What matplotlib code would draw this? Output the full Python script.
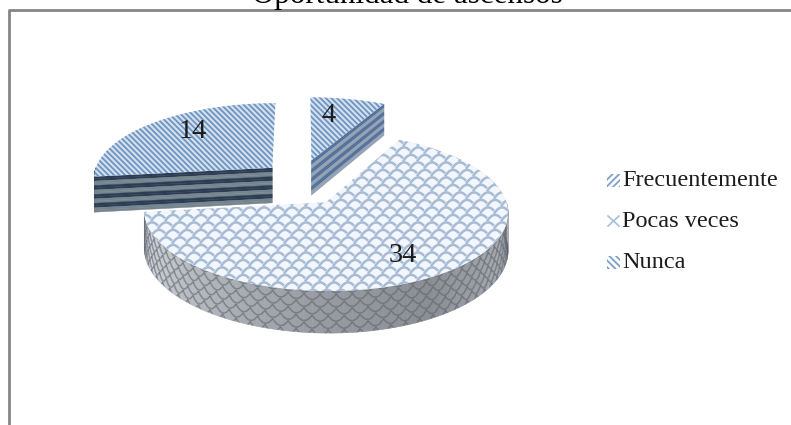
import numpy as np
import matplotlib
matplotlib.use('Agg')
import matplotlib.pyplot as plt
from matplotlib.collections import LineCollection, PolyCollection
from matplotlib.patches import Polygon, Rectangle

plt.rcParams['font.family'] = ['Liberation Serif', 'DejaVu Serif']
plt.rcParams['hatch.linewidth'] = 1.3

title = 'Oportunidad de ascensos'
categories = ['Frecuentemente', 'Pocas veces', 'Nunca']
values = [4, 34, 14]

# pie geometry, in pixels of the saved figure
CX, CY = 302, 184
RX, RY = 181, 76
DEPTH = 36
PERSP = 0.12
EXPLODE_X, EXPLODE_Y = 0.225, 0.33
BIG_R, BIG_EXPLODE_Y = 0.97, 0.285

fig = plt.figure(figsize=(7.91, 4.25), dpi=100)
ax = fig.add_axes([0, 0, 1, 1])
ax.set_xlim(0, 791)
ax.set_ylim(425, 0)
ax.axis('off')


def project(x, y, z=0.0):
    w = 1 + PERSP * y
    return CX + RX * x / w, CY - RY * y / w + DEPTH * z / w


def slice_xy(theta, r, mid, ey=EXPLODE_Y):
    # theta in degrees, clockwise from the top of the pie
    t = np.radians(theta)
    m = np.radians(mid)
    x = r * np.sin(t) + EXPLODE_X * np.sin(m)
    y = r * np.cos(t) + ey * np.cos(m)
    return x, y


def top_outline(start, end, mid, r=1.0, ey=EXPLODE_Y):
    th = np.linspace(start, end, 120)
    x, y = slice_xy(th, r, mid, ey)
    ax0, ay0 = slice_xy(start, 0.0, mid, ey)
    sx, sy = project(np.r_[ax0, x], np.r_[ay0, y])
    return np.column_stack([sx, sy])


def banded_face(p0, p1, colors, zorder):
    # straight cut face between two points of the top surface
    n = len(colors)
    quads = []
    for i in range(n):
        z0, z1 = i / n, (i + 1) / n
        quads.append([project(*p0, z0), project(*p1, z0), project(*p1, z1), project(*p0, z1)])
    ax.add_collection(PolyCollection(quads, facecolors=colors, edgecolors=colors, linewidths=0.3, zorder=zorder))


def banded_rim(start, end, mid, colors, zorder):
    n = len(colors)
    th = np.linspace(start, end, 60)
    x, y = slice_xy(th, 1.0, mid)
    quads, cols = [], []
    for i in range(n):
        z0, z1 = i / n, (i + 1) / n
        for j in range(len(th) - 1):
            quads.append([project(x[j], y[j], z0), project(x[j + 1], y[j + 1], z0),
                          project(x[j + 1], y[j + 1], z1), project(x[j], y[j], z1)])
            cols.append(colors[i])
    ax.add_collection(PolyCollection(quads, facecolors=cols, edgecolors=cols, linewidths=0.3, zorder=zorder))


def striped_top(start, end, mid, zorder):
    pts = top_outline(start, end, mid)
    ax.add_patch(Polygon(pts, closed=True, fc='#d3e0ef', ec='none', zorder=zorder))
    ax.add_patch(Polygon(pts, closed=True, fc='none', ec='#6f94c0', lw=0, hatch='\\' * 6, zorder=zorder + 1))


# wedge angles come from the values
total = sum(values)
edges = np.r_[0, np.cumsum(values)] / total * 360
mids = (edges[:-1] + edges[1:]) / 2

frec_bands = ['#4f6f9a', '#4f6f9a', '#93a1b2', '#93a1b2'] * 4
nunca_bands = ['#2b3d52', '#2b3d52', '#76848f', '#76848f'] * 4

# --- Pocas veces: rim with shaded scales, then the top
s, e, m = edges[1], edges[2], mids[1]
rim_th = np.linspace(90, e, 140)
rx_, ry_ = slice_xy(rim_th, BIG_R, m, BIG_EXPLODE_Y)
quads, cols = [], []
for j in range(len(rim_th) - 1):
    quads.append([project(rx_[j], ry_[j], 0), project(rx_[j + 1], ry_[j + 1], 0),
                  project(rx_[j + 1], ry_[j + 1], 1), project(rx_[j], ry_[j], 1)])
    shade = np.interp(rim_th[j], [90, 120, 150, 185, 225, 250, e], [0.68, 0.64, 0.54, 0.60, 0.72, 0.82, 0.9])
    cols.append((shade, shade + 0.015, shade + 0.04))
rim = PolyCollection(quads, facecolors=cols, edgecolors=cols, linewidths=0.4, zorder=2)
ax.add_collection(rim)

# scales on the rim
rim_lines = []
for row, z0 in enumerate(np.arange(-0.1, 1.1, 0.17)):
    for t0 in np.arange(88, e + 4, 4.5):
        t_c = t0 + (2.25 if row % 2 else 0)
        arc = np.linspace(-2.25, 2.25, 12)
        ax_, ay_ = slice_xy(t_c + arc, BIG_R, m, BIG_EXPLODE_Y)
        sx, sy = project(ax_, ay_, z0 + 0.14 * (1 - (arc / 2.25) ** 2))
        rim_lines.append(np.column_stack([sx, sy]))
rim_scales = LineCollection(rim_lines, colors='#596069', linewidths=1.1, alpha=0.55, zorder=3)
ax.add_collection(rim_scales)
rim_clip = Polygon([project(rx_[i], ry_[i], 0) for i in range(len(rx_))] +
                   [project(rx_[i], ry_[i], 1) for i in range(len(rx_) - 1, -1, -1)],
                   transform=ax.transData, fc='none', ec='none')
ax.add_patch(rim_clip)
rim_scales.set_clip_path(rim_clip)

top = Polygon(top_outline(s, e, m, BIG_R, BIG_EXPLODE_Y), closed=True, fc='#f1f7fc', ec='none', zorder=4)
ax.add_patch(top)
scale_lines = []
for row, yy in enumerate(np.arange(110, 310, 7.5)):
    for xx in np.arange(130, 530, 14.0):
        xc = xx + (7.0 if row % 2 else 0)
        u = np.linspace(-7.0, 7.0, 12)
        scale_lines.append(np.column_stack([xc + u, yy + 4.8 * (u / 7.0) ** 2 - 1.5 * u / 7.0]))
scales = LineCollection(scale_lines, colors='#a9bbd4', linewidths=1.8, zorder=5)
ax.add_collection(scales)
scales.set_clip_path(top)

# --- Frecuentemente
s, e, m = edges[0], edges[1], mids[0]
banded_face(slice_xy(s, 0.0, m), slice_xy(e, 1.0, m), frec_bands, 6)
striped_top(s, e, m, 7)

# --- Nunca
s, e, m = edges[2], edges[3], mids[2]
banded_rim(s, 270, m, nunca_bands, 5.5)
banded_face(slice_xy(s, 1.0, m), slice_xy(s, 0.0, m), nunca_bands, 6)
striped_top(s, e, m, 7)

# value labels
label_xy = [(329, 115), (403, 255), (193, 132)]
for (lx, ly), v in zip(label_xy, values):
    ax.text(lx, ly, str(v), fontsize=20.5, color='#1c1c1c', ha='center', va='center', zorder=10)

# frame: only the top and left lines are there
ax.plot([8.5, 8.5], [425, 9.5], color='#858585', lw=2.0, solid_capstyle='butt', zorder=1)
ax.plot([7.5, 791], [9.5, 9.5], color='#858585', lw=2.0, solid_capstyle='butt', zorder=1)
ax.text(407.5, 3, title, fontsize=22.4, color='black', ha='center', va='baseline', zorder=10)

# legend
legend_y = [180, 221, 262]
legend_hatch = ['/' * 5, None, '\\' * 5]
for name, ly, h in zip(categories, legend_y, legend_hatch):
    if h:
        ax.add_patch(Rectangle((607, ly - 6.5), 13, 13, fc='white', ec='#7da0c8', lw=0, hatch=h, zorder=9))
    else:
        # the sparse pattern only shows a small cross in such a small box
        ax.plot([608, 619], [ly - 5, ly + 5], color='#a9bdd6', lw=1.2, zorder=9)
        ax.plot([608, 619], [ly + 5, ly - 5], color='#a9bdd6', lw=1.2, zorder=9)
    ax.text(622, ly, name, fontsize=17.5, color='#1c1c1c', ha='left', va='center', zorder=10)

fig.savefig('out.png', dpi=100)
